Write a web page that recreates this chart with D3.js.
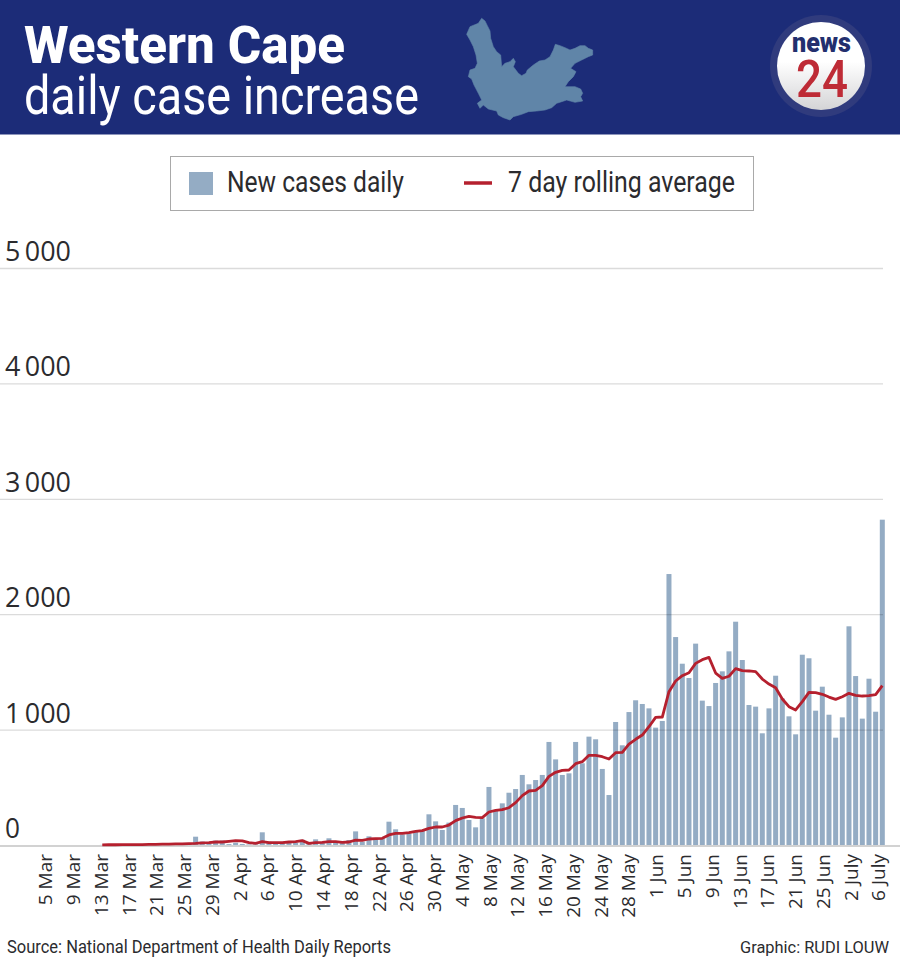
<!DOCTYPE html>
<html><head><meta charset="utf-8">
<script src="https://cdn.jsdelivr.net/npm/d3@7"></script>
<style>html,body{margin:0;padding:0;background:#fff}svg{display:block}text{font-family:Roboto,"Noto Sans",sans-serif}</style>
</head><body><div id="chart"></div>
<script>
const title1 = "Western Cape", title2 = "daily case increase";
const legendBars = "New cases daily", legendLine = "7 day rolling average";
const sourceText = "Source: National Department of Health Daily Reports", creditText = "Graphic: RUDI LOUW";
const yTicks = [0,1000,2000,3000,4000,5000];
const xLabels = ["5 Mar","9 Mar","13 Mar","17 Mar","21 Mar","25 Mar","29 Mar","2 Apr","6 Apr","10 Apr","14 Apr","18 Apr","22 Apr","26 Apr","30 Apr","4 May","8 May","12 May","16 May","20 May","24 May","28 May","1 Jun","5 Jun","9 Jun","13 Jun","17 Jun","21 Jun","25 Jun","2 July","6 July"];
const newCases = [0,0,0,0,0,0,0,1,1,2,4,5,3,8,9,6,12,7,10,15,14,72,30,13,38,38,8,20,9,5,6,110,29,23,20,29,20,45,20,49,26,58,23,23,43,118,29,75,58,58,202,136,92,101,116,124,266,205,130,194,347,321,217,153,231,503,303,361,453,485,607,526,563,607,893,742,607,621,893,708,939,916,659,433,1066,864,1152,1254,1222,1184,1017,1075,2348,1802,1571,1447,1745,1251,1204,1404,1505,1678,1935,1603,1213,1199,968,1184,1467,1270,1115,959,1649,1618,1164,1372,1129,930,1106,1895,1464,1095,1441,1155,2819];
const rolling = [null,null,null,null,null,null,null,1,2,2,3,3,4,4,5,6,7,8,9,10,12,14,18,20,26,26,32,38,36,20,14,29,20,20,20,26,29,38,14,20,23,29,29,23,26,43,40,52,55,58,87,101,101,107,118,124,144,156,156,173,211,234,248,240,237,286,300,306,323,367,428,468,474,514,595,630,647,650,705,722,777,777,765,745,800,803,875,916,953,1025,1106,1109,1329,1421,1467,1493,1574,1606,1626,1490,1444,1462,1528,1511,1508,1502,1438,1395,1363,1265,1199,1170,1242,1323,1320,1306,1282,1262,1285,1314,1297,1291,1294,1303,1381];
const mapShape = [[95,40],[105,48],[112,62],[120,78],[122,100],[130,125],[140,140],[152,150],[155,185],[165,175],[180,170],[190,160],[196,170],[190,185],[205,205],[215,212],[228,205],[232,195],[250,180],[268,168],[285,165],[300,155],[310,135],[316,118],[330,122],[345,128],[360,135],[375,130],[390,122],[405,122],[415,130],[428,135],[428,150],[415,155],[395,165],[375,175],[362,190],[378,200],[370,215],[355,230],[345,245],[375,245],[392,252],[398,265],[392,275],[398,288],[375,292],[350,285],[335,290],[320,295],[305,308],[285,315],[260,318],[235,320],[215,328],[190,335],[180,345],[160,338],[145,330],[140,318],[115,312],[100,300],[90,310],[82,295],[95,285],[85,265],[72,240],[65,222],[55,215],[60,195],[75,190],[82,175],[78,150],[70,125],[60,105],[50,88],[60,65],[85,55]];

const W = 900, H = 963;
const svg = d3.select("#chart").append("svg").attr("width",W).attr("height",H).attr("viewBox",`0 0 ${W} ${H}`);
const defs = svg.append("defs");
const lg = defs.append("linearGradient").attr("id","logoGrad").attr("x1",0).attr("y1",0).attr("x2",0).attr("y2",1);
lg.append("stop").attr("offset","0.45").attr("stop-color","#ffffff");
lg.append("stop").attr("offset","1").attr("stop-color","#d4d4d6");

const NAVY="#1c2c78", BAR="#94acc4", RED="#b5202e", INK="#2b2b2e";
function fitText(sel,len){return sel.attr("textLength",len).attr("lengthAdjust","spacingAndGlyphs");}

// header
svg.append("rect").attr("width",W).attr("height",134.5).attr("fill",NAVY);
fitText(svg.append("text").attr("x",24).attr("y",63).attr("font-size",51).attr("font-weight",800).attr("fill","#fff").text(title1),321);
fitText(svg.append("text").attr("x",24).attr("y",114).attr("font-size",54).attr("font-weight",400).attr("fill","#fff").text(title2),395);
const mapX=d3.scaleLinear().domain([0,480]).range([450,610]), mapY=d3.scaleLinear().domain([0,375]).range([5,130]);
svg.append("path").attr("fill","#6085a8").attr("stroke","#6085a8").attr("stroke-width",.6)
  .attr("d",d3.line().x(d=>mapX(d[0])).y(d=>mapY(d[1])).curve(d3.curveLinearClosed)(mapShape));
svg.append("circle").attr("cx",821).attr("cy",66).attr("r",51).attr("fill","#303b7d");
svg.append("circle").attr("cx",821).attr("cy",66).attr("r",44).attr("fill","url(#logoGrad)");
fitText(svg.append("text").attr("x",792).attr("y",52).attr("font-size",27).attr("font-weight",900).attr("fill","#232f6e").text("news"),59);
fitText(svg.append("text").attr("x",796).attr("y",97).attr("font-size",52).attr("font-weight",500).attr("fill","#be2b36").text("24"),52);

// legend
svg.append("rect").attr("x",170.5).attr("y",156.5).attr("width",583).attr("height",54).attr("fill","#fff").attr("stroke","#a9a9a9").attr("stroke-width",1);
svg.append("rect").attr("x",189).attr("y",172).attr("width",24).attr("height",23).attr("fill",BAR);
fitText(svg.append("text").attr("x",227).attr("y",192).attr("font-size",29).attr("fill",INK).text(legendBars),177);
svg.append("line").attr("x1",464).attr("x2",492).attr("y1",183).attr("y2",183).attr("stroke",RED).attr("stroke-width",3.5);
fitText(svg.append("text").attr("x",508).attr("y",192).attr("font-size",29).attr("fill",INK).text(legendLine),227);

// scales
const y = d3.scaleLinear().domain([0,5000]).range([845,268]);
const STEP = 6.667;
const x = d3.scaleBand().domain(d3.range(newCases.length)).range([55.6-STEP/2, 55.6-STEP/2+STEP*newCases.length]).paddingInner(0.25).paddingOuter(0.125);
const xc = i => x(i)+x.bandwidth()/2;
const xAxisScale = d3.scalePoint().domain(xLabels).range([45,878]);

// bars
svg.append("g").selectAll("rect").data(newCases).join("rect")
  .attr("x",(d,i)=>x(i)).attr("width",x.bandwidth()).attr("y",d=>y(d)).attr("height",d=>y(0)-y(d)).attr("fill",BAR);

// grid
const yG = svg.append("g").call(d3.axisRight(y).tickValues(yTicks.filter(d=>d>0)).tickSize(883).tickFormat(""));
yG.select(".domain").remove();
yG.selectAll("line").attr("stroke","#000").attr("stroke-opacity",.14).attr("stroke-width",1.3);
yG.selectAll("text").remove();
// y labels
svg.append("g").selectAll("text").data(yTicks).join("text")
  .attr("x",5).attr("y",d=>y(d)-7).attr("font-size",27).attr("fill",INK)
  .style("font-family","'Open Sans',sans-serif").text(d=> d===0 ? "0" : d3.format(",")(d).replace(",","\u2009"))
  .each(function(d){d3.select(this).attr("textLength",d===0?15:66).attr("lengthAdjust","spacingAndGlyphs");});

// baseline
svg.append("line").attr("x1",0).attr("x2",W).attr("y1",846).attr("y2",846).attr("stroke","#d2d2d2").attr("stroke-width",2);

// x axis
const xG = svg.append("g").attr("transform","translate(0,846)").call(d3.axisBottom(xAxisScale).tickSize(0));
xG.select(".domain").remove();
xG.selectAll("text").attr("transform","rotate(-90)").attr("x",-8).attr("y",0).attr("dy","0.36em")
  .attr("text-anchor","end").attr("font-size",19).attr("fill",INK).style("font-family","'Open Sans',sans-serif");

// rolling line
svg.append("path").attr("fill","none").attr("stroke",RED).attr("stroke-width",2.8).attr("stroke-linejoin","round")
  .attr("d",d3.line().defined(d=>d!==null).x((d,i)=>xc(i)).y(d=>y(d))(rolling));

// footer
fitText(svg.append("text").attr("x",7).attr("y",953).attr("font-size",18).attr("fill",INK).text(sourceText),384);
fitText(svg.append("text").attr("x",740).attr("y",953).attr("font-size",17).attr("fill",INK).text(creditText),149);
</script></body></html>
